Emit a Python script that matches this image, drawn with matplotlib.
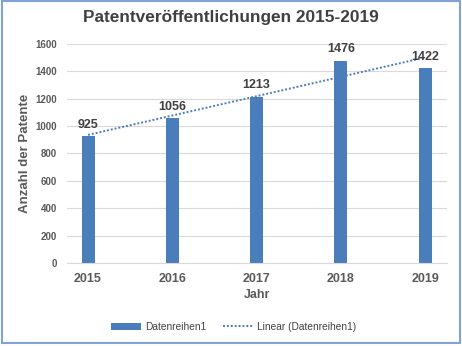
import matplotlib.pyplot as plt
import numpy as np
from matplotlib.patches import Rectangle

# Patent data
years = ['2015', '2016', '2017', '2018', '2019']
patents = [925, 1056, 1213, 1476, 1422]

plt.rcParams['font.family'] = ['Liberation Sans', 'DejaVu Sans']

fig = plt.figure(figsize=(4.62, 3.46), dpi=100, facecolor='white')
ax = fig.add_axes([0.145, 0.24, 0.8225, 0.633])

bar_color = '#4a7ebb'
grey = '#595959'

x = np.arange(len(years))
bars = ax.bar(x, patents, width=0.155, color=bar_color, zorder=2, label='Datenreihen1')

# linear trendline (Excel style)
k, d = np.polyfit(x, patents, 1)
trend, = ax.plot(x, k * x + d, linestyle=(0, (1, 1)), color=bar_color, linewidth=1.4,
                 zorder=3, label='Linear (Datenreihen1)')

# data labels
for xi, v in zip(x, patents):
    ax.text(xi, v + 40, str(v), ha='center', va='bottom', fontsize=9,
            fontweight='bold', color='#404040', zorder=4)

ax.set_xlim(-0.25, 4.26)
ax.set_ylim(0, 1600)
ax.set_yticks(np.arange(0, 1601, 200))
ax.set_xticks(x)
ax.set_xticklabels(years)
ax.grid(axis='y', color='#d9d9d9', linewidth=0.8, zorder=0)
for s in ['top', 'right', 'left']:
    ax.spines[s].set_visible(False)
ax.spines['bottom'].set_color('#d9d9d9')
ax.tick_params(length=0)
ax.tick_params(axis='y', labelsize=7, labelcolor=grey, pad=7)
ax.tick_params(axis='x', labelsize=9, labelcolor=grey, pad=7)
for lbl in ax.get_xticklabels() + ax.get_yticklabels():
    lbl.set_fontweight('bold')

ax.set_xlabel('Jahr', fontsize=9, fontweight='bold', color=grey, labelpad=3)
ax.set_ylabel('Anzahl der Patente', fontsize=9.5, fontweight='bold', color=grey, labelpad=3)

fig.text(0.5, 0.948, 'Patentveröffentlichungen 2015-2019', ha='center', va='center',
         fontsize=12.4, fontweight='bold', color='#404040')

fig.legend([bars, trend], ['Datenreihen1', 'Linear (Datenreihen1)'],
           loc='center', bbox_to_anchor=(0.506, 0.055), ncol=2, frameon=False,
           fontsize=7.3, handlelength=3.0, handletextpad=0.35, columnspacing=1.7,
           labelcolor='#404040')

# outer frame
fig.patches.append(Rectangle((0.004, 0.008), 0.991, 0.99, transform=fig.transFigure,
                             fill=False, edgecolor='#7fa3d8', linewidth=1.5))

fig.savefig('out.png', dpi=100, facecolor='white')
